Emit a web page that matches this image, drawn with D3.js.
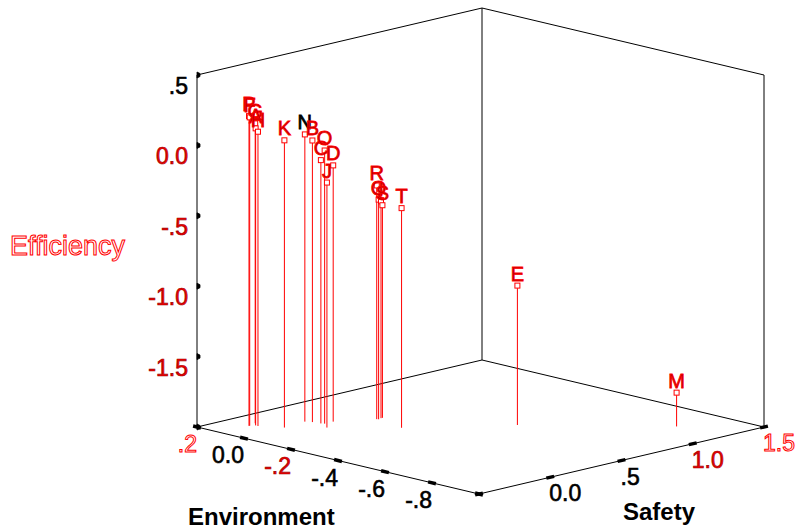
<!DOCTYPE html>
<html>
<head>
<meta charset="utf-8">
<script src="https://cdn.jsdelivr.net/npm/d3@7/dist/d3.min.js"></script>
<style>
  html, body { margin: 0; padding: 0; background: #fff; }
  svg { display: block; font-family: "Liberation Sans", Arial, sans-serif; }
</style>
</head>
<body>
<div id="chart"></div>
<script>
// cases (Environment, Safety, Efficiency)
var caseLabels  = ["P", "F", "G", "A", "H", "K", "N", "B", "C", "O", "J", "D", "R", "Q", "I", "S", "T", "E", "M"];
var environment = [0.10, 0.10, 0.11, 0.09, 0.08, 0.01, 0.02, 0.00, -0.03, -0.04, -0.08, -0.04, -0.11, -0.115, -0.11, -0.11, -0.24, -0.46, -0.81];
var safety      = [-0.30, -0.295, -0.24, -0.27, -0.27, -0.20, -0.04, -0.02, -0.01, 0.00, -0.05, 0.06, 0.25, 0.255, 0.28, 0.29, 0.21, 0.66, 1.20];
var efficiency  = [0.20, 0.19, 0.13, 0.11, 0.09, 0.04, 0.04, 0.00, -0.13, -0.06, -0.26, -0.18, -0.34, -0.44, -0.46, -0.49, -0.44, -1.01, -1.76];

// axis ticks
var effTicks = [0.5, 0, -0.5, -1.0, -1.5, -2.0];
var effTickLabels = [".5", "0.0", "-.5", "-1.0", "-1.5", ""];
var envTicks = [0.2, 0, -0.2, -0.4, -0.6, -0.8, -1.0];
var envTickLabels = [".2", "0.0", "-.2", "-.4", "-.6", "-.8", ""];
var safTicks = [-0.5, 0, 0.5, 1.0, 1.5];
var safTickLabels = ["", "0.0", ".5", "1.0", "1.5"];

var width = 799, height = 529;

// box geometry (screen)
var origin = [197, 427];
var envVec = [282, 67];
var safVec = [285, -67];

var envScale = d3.scaleLinear().domain([0.2, -1.0]).range([0, 1]);
var safScale = d3.scaleLinear().domain([-0.5, 1.5]).range([0, 1]);
var effScale = d3.scaleLinear().domain([-2.0, 0.5]).range([0, 352]);

function proj(env, saf, eff) {
  var a = envScale(env), b = safScale(saf);
  return [origin[0] + a * envVec[0] + b * safVec[0],
          origin[1] + a * envVec[1] + b * safVec[1] - effScale(eff)];
}

var svg = d3.select("#chart").append("svg")
  .attr("width", width)
  .attr("height", height);

// box edges: left wall, right wall, floor
var eMin = 0.2, eMax = -1.0, sMin = -0.5, sMax = 1.5, zMin = -2.0, zMax = 0.5;
var edges = [
  [[eMin, sMin, zMin], [eMin, sMin, zMax]],
  [[eMin, sMin, zMax], [eMin, sMax, zMax]],
  [[eMin, sMax, zMin], [eMin, sMax, zMax]],
  [[eMin, sMax, zMax], [eMax, sMax, zMax]],
  [[eMax, sMax, zMin], [eMax, sMax, zMax]],
  [[eMin, sMin, zMin], [eMin, sMax, zMin]],
  [[eMin, sMax, zMin], [eMax, sMax, zMin]],
  [[eMin, sMin, zMin], [eMax, sMin, zMin]],
  [[eMax, sMin, zMin], [eMax, sMax, zMin]]
];
var line = d3.line();
svg.append("g").selectAll("path")
  .data(edges)
  .join("path")
  .attr("d", function (d) { return line(d.map(function (p) { return proj(p[0], p[1], p[2]); })); })
  .attr("fill", "none")
  .attr("stroke", "#000")
  .attr("stroke-width", 1);

// tick label styles
function tickStyle(sel, kind) {
  if (kind === "hollow") {
    sel.attr("fill", "#fff").attr("stroke", "#ff0000").attr("stroke-width", 1);
  } else if (kind === "red") {
    sel.attr("fill", "#ee0000").attr("stroke", "#a00000").attr("stroke-width", 0.7);
  } else {
    sel.attr("fill", "#000").attr("stroke", "#000").attr("stroke-width", 0.6);
  }
}
var effKinds = ["black", "red", "red", "red", "red", "black"];
var envKinds = ["hollow", "black", "red", "black", "black", "black", "black"];
var safKinds = ["black", "black", "black", "red", "hollow"];

var ticks = svg.append("g");

// Efficiency axis
effTicks.forEach(function (v, i) {
  var p = proj(eMin, sMin, v);
  ticks.append("path")
    .attr("d", "M" + p[0] + "," + (p[1] - 3) + "l3,1.5l0,3l-3,1.5z")
    .attr("fill", "#000").attr("stroke", "#000").attr("stroke-width", 0.8);
  if (effTickLabels[i]) {
    ticks.append("text")
      .attr("x", p[0] - 9)
      .attr("y", p[1] + 19)
      .attr("text-anchor", "end")
      .attr("font-size", 23)
      .text(effTickLabels[i])
      .call(tickStyle, effKinds[i]);
  }
});

// Environment axis
var envLen = Math.sqrt(envVec[0] * envVec[0] + envVec[1] * envVec[1]);
envTicks.forEach(function (v, i) {
  var p = proj(v, sMin, zMin);
  var ux = envVec[0] / envLen * 4, uy = envVec[1] / envLen * 4;
  ticks.append("line")
    .attr("x1", p[0] - ux).attr("y1", p[1] - uy)
    .attr("x2", p[0] + ux).attr("y2", p[1] + uy)
    .attr("stroke", "#000").attr("stroke-width", 3.5);
  if (envTickLabels[i]) {
    ticks.append("text")
      .attr("x", p[0])
      .attr("y", p[1] + 25)
      .attr("text-anchor", "end")
      .attr("font-size", 23)
      .text(envTickLabels[i])
      .call(tickStyle, envKinds[i]);
  }
});

// Safety axis
var safLen = Math.sqrt(safVec[0] * safVec[0] + safVec[1] * safVec[1]);
safTicks.forEach(function (v, i) {
  var p = proj(eMax, v, zMin);
  var ux = safVec[0] / safLen * 4, uy = safVec[1] / safLen * 4;
  ticks.append("line")
    .attr("x1", p[0] - ux).attr("y1", p[1] - uy)
    .attr("x2", p[0] + ux).attr("y2", p[1] + uy)
    .attr("stroke", "#000").attr("stroke-width", 3.5);
  if (safTickLabels[i]) {
    ticks.append("text")
      .attr("x", p[0] - 1)
      .attr("y", p[1] + 24)
      .attr("text-anchor", "start")
      .attr("font-size", 23)
      .text(safTickLabels[i])
      .call(tickStyle, safKinds[i]);
  }
});

// axis titles
svg.append("text")
  .attr("x", 10).attr("y", 255)
  .attr("font-size", 27)
  .attr("fill", "#fff").attr("stroke", "#ff0000").attr("stroke-width", 1)
  .text("Efficiency");
svg.append("text")
  .attr("x", 188).attr("y", 525)
  .attr("font-size", 24).attr("font-weight", "bold")
  .attr("fill", "#000")
  .text("Environment");
svg.append("text")
  .attr("x", 623).attr("y", 520)
  .attr("font-size", 24).attr("font-weight", "bold")
  .attr("fill", "#000")
  .text("Safety");

// points with drop lines
var points = caseLabels.map(function (lab, i) {
  var top = proj(environment[i], safety[i], efficiency[i]);
  var foot = proj(environment[i], safety[i], zMin);
  return { label: lab, top: top, foot: foot };
});

var g = svg.append("g");
g.selectAll("line.stem")
  .data(points)
  .join("line")
  .attr("class", "stem")
  .attr("x1", function (d) { return d.top[0]; })
  .attr("y1", function (d) { return d.top[1] + 2.5; })
  .attr("x2", function (d) { return d.foot[0]; })
  .attr("y2", function (d) { return d.foot[1]; })
  .attr("stroke", "#ff0000")
  .attr("stroke-width", 1);

g.selectAll("rect.marker")
  .data(points)
  .join("rect")
  .attr("class", "marker")
  .attr("x", function (d) { return d.top[0] - 2.5; })
  .attr("y", function (d) { return d.top[1] - 2.5; })
  .attr("width", 5)
  .attr("height", 5)
  .attr("fill", "#fff")
  .attr("stroke", "#ff0000")
  .attr("stroke-width", 1);

g.selectAll("text.lab")
  .data(points)
  .join("text")
  .attr("class", "lab")
  .attr("x", function (d) { return d.top[0]; })
  .attr("y", function (d) { return d.top[1] - 5; })
  .attr("text-anchor", "middle")
  .attr("font-size", 20)
  .attr("fill", function (d) { return d.label === "N" ? "#000" : "#b00000"; })
  .attr("stroke", function (d) { return d.label === "N" ? "#000" : "#ff0000"; })
  .attr("stroke-width", 0.8)
  .text(function (d) { return d.label; });
</script>
</body>
</html>
